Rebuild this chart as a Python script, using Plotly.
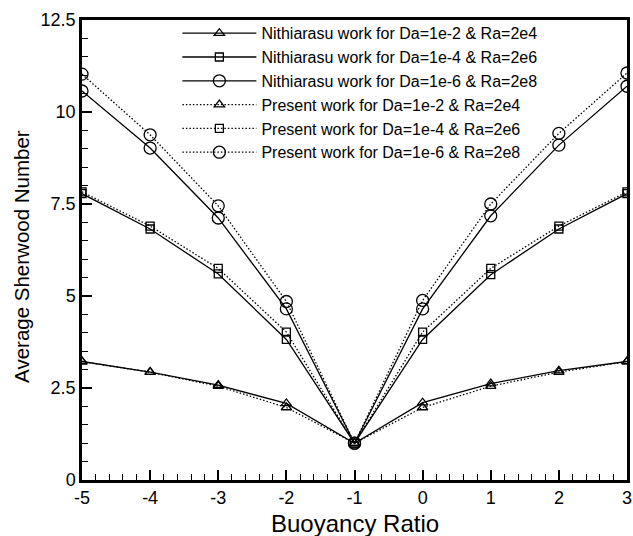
import plotly.graph_objects as go

buoyancy_ratio = [-5, -4, -3, -2, -1, 0, 1, 2, 3]

nith_da1e2 = [3.22, 2.93, 2.58, 2.08, 1.0, 2.10, 2.62, 2.97, 3.22]
nith_da1e4 = [7.78, 6.82, 5.60, 3.82, 1.0, 3.82, 5.58, 6.82, 7.78]
nith_da1e6 = [10.57, 9.02, 7.12, 4.65, 1.0, 4.65, 7.18, 9.10, 10.70]
pres_da1e2 = [3.22, 2.93, 2.55, 1.97, 1.0, 1.97, 2.55, 2.93, 3.22]
pres_da1e4 = [7.83, 6.90, 5.75, 4.02, 1.0, 4.02, 5.75, 6.90, 7.83]
pres_da1e6 = [11.03, 9.38, 7.45, 4.85, 1.0, 4.88, 7.50, 9.42, 11.06]

names = [
    "Nithiarasu work for Da=1e-2 & Ra=2e4",
    "Nithiarasu work for Da=1e-4 & Ra=2e6",
    "Nithiarasu work for Da=1e-6 & Ra=2e8",
    "Present work for Da=1e-2 & Ra=2e4",
    "Present work for Da=1e-4 & Ra=2e6",
    "Present work for Da=1e-6 & Ra=2e8",
]
series = [nith_da1e2, nith_da1e4, nith_da1e6, pres_da1e2, pres_da1e4, pres_da1e6]
symbols = ["triangle-up-open", "square-open", "circle-open"] * 2
sizes = [9, 8, 12] * 2
dashes = ["solid"] * 3 + ["1.5px,2px"] * 3

fig = go.Figure()
for name, ys, sym, sz, dash in zip(names, series, symbols, sizes, dashes):
    fig.add_trace(go.Scatter(
        x=buoyancy_ratio, y=ys, name=name, mode="lines+markers",
        line=dict(color="black", width=1.3, dash=dash),
        marker=dict(symbol=sym, size=sz, color="black", line=dict(color="black", width=1.3)),
    ))

font_family = "Liberation Sans, Arial, sans-serif"
fig.update_layout(
    width=633, height=536,
    margin=dict(l=82, r=6, t=20, b=56),
    paper_bgcolor="white", plot_bgcolor="white",
    font=dict(family=font_family, color="black"),
    showlegend=True,
    legend=dict(
        x=0.175, y=1.008, xanchor="left", yanchor="top",
        font=dict(size=16, family=font_family, color="black"),
        bgcolor="rgba(0,0,0,0)", itemwidth=74, tracegroupgap=0,
    ),
    xaxis=dict(
        range=[-5, 3], tickmode="array", tickvals=buoyancy_ratio,
        ticktext=[str(v) for v in buoyancy_ratio],
        ticks="inside", ticklen=10, tickwidth=2, tickcolor="black",
        minor=dict(ticks="inside", dtick=0.2, ticklen=6, tickwidth=1.2, tickcolor="black"),
        showline=True, linewidth=2.5, linecolor="black", mirror=True,
        showgrid=False, zeroline=False,
        tickfont=dict(size=18),
        automargin=False,
    ),
    yaxis=dict(
        range=[0, 12.5], tickmode="array", tickvals=[0, 2.5, 5, 7.5, 10, 12.5],
        ticktext=["0", "2.5", "5", "7.5", "10", "12.5"],
        ticks="inside", ticklen=10, tickwidth=2, tickcolor="black",
        minor=dict(ticks="inside", dtick=0.5, ticklen=6, tickwidth=1.2, tickcolor="black"),
        showline=True, linewidth=2.5, linecolor="black", mirror=True,
        showgrid=False, zeroline=False,
        tickfont=dict(size=18),
        automargin=False,
    ),
    annotations=[
        dict(text="Buoyancy Ratio", xref="paper", yref="paper", x=0.5, y=0,
             xanchor="center", yanchor="top", yshift=-28, showarrow=False,
             font=dict(size=24, family=font_family, color="black")),
        dict(text="Average Sherwood Number", xref="paper", yref="paper", x=0, y=0.485,
             xanchor="center", yanchor="middle", xshift=-60, textangle=-90, showarrow=False,
             font=dict(size=20.5, family=font_family, color="black")),
    ],
)

fig.write_html(
    "out.html",
    config={"displayModeBar": False},
    post_script="document.body.style.margin='0';document.body.style.overflow='hidden';",
)
